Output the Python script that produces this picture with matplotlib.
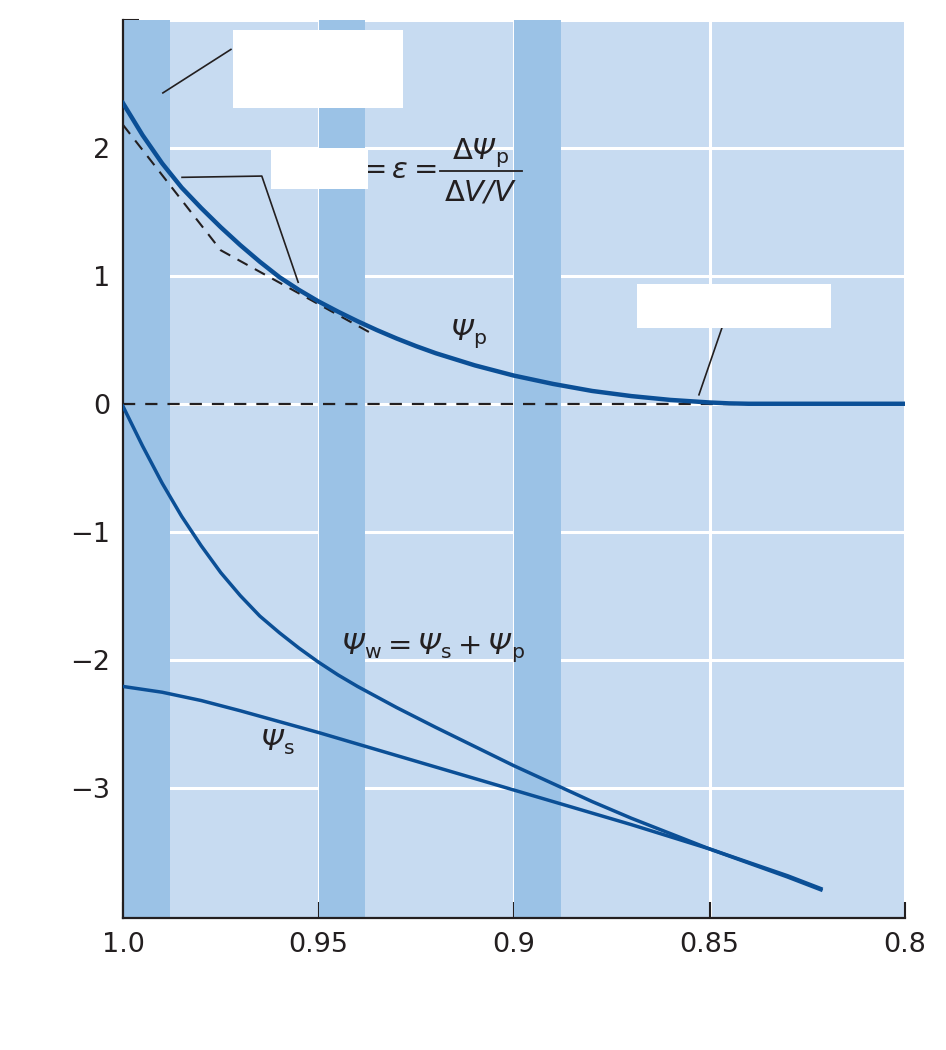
import matplotlib.pyplot as plt
from matplotlib.patches import Rectangle

plt.rcParams['font.family'] = ['DejaVu Sans']
plt.rcParams['mathtext.fontset'] = 'custom'
plt.rcParams['mathtext.rm'] = 'DejaVu Sans:italic'   # greek capitals go to rm -> italic
plt.rcParams['mathtext.it'] = 'DejaVu Sans:italic'
plt.rcParams['mathtext.sf'] = 'DejaVu Sans'          # upright subscripts / delta

# relative volume (x axis, decreasing)
x_p = [1.0, 0.995, 0.99, 0.985, 0.98, 0.975, 0.97, 0.965, 0.96, 0.955, 0.95,
       0.945, 0.94, 0.935, 0.93, 0.925, 0.92, 0.91, 0.9, 0.89, 0.88, 0.87,
       0.86, 0.85, 0.845, 0.84, 0.8]
psi_p = [2.35, 2.10, 1.88, 1.69, 1.53, 1.38, 1.24, 1.11, 0.99, 0.89, 0.80,
         0.72, 0.645, 0.575, 0.51, 0.45, 0.395, 0.30, 0.22, 0.155, 0.10, 0.06,
         0.03, 0.01, 0.003, 0.0, 0.0]

x_w = [1.0, 0.995, 0.99, 0.985, 0.98, 0.975, 0.97, 0.965, 0.96, 0.955, 0.95,
       0.945, 0.94, 0.93, 0.92, 0.91, 0.9, 0.89, 0.88, 0.87, 0.86, 0.85,
       0.84, 0.83, 0.8215]
psi_w = [-0.02, -0.33, -0.62, -0.88, -1.11, -1.32, -1.50, -1.66, -1.79, -1.91, -2.02,
         -2.12, -2.21, -2.375, -2.53, -2.68, -2.83, -2.97, -3.11, -3.24, -3.36, -3.48,
         -3.59, -3.70, -3.80]

x_s = [1.0, 0.99, 0.98, 0.97, 0.96, 0.95, 0.94, 0.93, 0.92, 0.91, 0.9,
       0.89, 0.88, 0.87, 0.86, 0.85, 0.84, 0.83, 0.8215]
psi_s = [-2.21, -2.255, -2.32, -2.40, -2.485, -2.57, -2.66, -2.75, -2.84, -2.93, -3.02,
         -3.11, -3.20, -3.29, -3.385, -3.48, -3.585, -3.69, -3.79]

# tangent (dashed) lines on psi_p
x_tan = [1.0, 0.975, 0.9368]
y_tan = [2.18, 1.20, 0.556]

# shaded bands
bands = [(1.0, 0.988), (0.95, 0.938), (0.9, 0.888)]

xticks = [1.0, 0.95, 0.9, 0.85, 0.8]
xlabels = ['1.0', '0.95', '0.9', '0.85', '0.8']
yticks = [-3, -2, -1, 0, 1, 2, 3]
ylabels = ['\u22123', '\u22122', '\u22121', '0', '1', '2', '']

light = '#c7dbf1'
dark = '#9bc2e6'
blue = '#0b4f96'
ink = '#231f20'

fig = plt.figure(figsize=(9.46, 10.5), dpi=100)
ax = fig.add_axes([123/946, 132/1050, 782/946, 898/1050])
ax.set_facecolor(light)
ax.set_xlim(1.0, 0.8)
ax.set_ylim(-4.02, 3.0)

ax.set_axisbelow(True)
ax.grid(True, color='white', lw=2.2, zorder=0.5)
for a, b in bands:
    ax.axvspan(b, a, color=dark, lw=0, zorder=1)

ax.axhline(0, color=ink, lw=1.6, ls=(0, (5.5, 4.5)), zorder=2)
ax.plot(x_tan, y_tan, color=ink, lw=1.5, ls=(0, (5.5, 4)), zorder=2)

ax.plot(x_p, psi_p, color=blue, lw=3.2, zorder=3)
ax.plot(x_w, psi_w, color=blue, lw=2.5, zorder=3)
ax.plot(x_s, psi_s, color=blue, lw=2.5, zorder=3)

# pointer lines
ax.plot([0.9898, 0.9724], [2.43, 2.77], color=ink, lw=1.2, zorder=4)
ax.plot([0.9849, 0.9645, 0.9552], [1.77, 1.78, 0.95], color=ink, lw=1.2, zorder=4)
ax.plot([0.8468, 0.8527], [0.595, 0.07], color=ink, lw=1.2, zorder=4)

# blanked label boxes
for x0, x1, y0, y1 in [(0.9719, 0.9284, 2.31, 2.92),
                       (0.9621, 0.9373, 1.68, 2.0),
                       (0.8685, 0.8189, 0.595, 0.94)]:
    ax.add_patch(Rectangle((x1, y0), x0 - x1, y1 - y0, facecolor='white',
                           edgecolor='none', zorder=5))

fs = 21
ax.text(0.9164, 0.50, r'$\Psi_\mathsf{p}$', fontsize=fs, color=ink, ha='left', va='baseline')
ax.text(0.9442, -1.96, r'$\Psi_\mathsf{w} = \Psi_\mathsf{s} + \Psi_\mathsf{p}$',
        fontsize=fs, color=ink, ha='left', va='baseline')
ax.text(0.965, -2.71, r'$\Psi_\mathsf{s}$', fontsize=fs, color=ink, ha='left', va='baseline')

# elasticity formula
ax.text(0.9356, 1.83, '=', fontsize=fs, color=ink, ha='center', va='center')
ax.text(0.9292, 1.83, '\u03b5', fontsize=fs, color=ink, style='italic', ha='center', va='center')
ax.text(0.9225, 1.83, '=', fontsize=fs, color=ink, ha='center', va='center')
ax.plot([0.9189, 0.898], [1.82, 1.82], color=ink, lw=1.3)
ax.text(0.9085, 1.91, r'$\mathsf{\Delta}\Psi_\mathsf{p}$', fontsize=fs, color=ink,
        ha='center', va='baseline')
ax.text(0.9085, 1.59, r'$\mathsf{\Delta}V/V$', fontsize=fs, color=ink,
        ha='center', va='baseline')

ax.set_xticks(xticks)
ax.set_xticklabels(xlabels)
ax.set_yticks(yticks)
ax.set_yticklabels(ylabels)
ax.tick_params(direction='in', length=11.5, width=1.5, color=ink, labelcolor=ink,
               labelsize=19.5)
ax.tick_params(axis='y', pad=9)
ax.tick_params(axis='x', pad=10)

for s in ['top', 'right']:
    ax.spines[s].set_visible(False)
for s in ['left', 'bottom']:
    ax.spines[s].set_color(ink)
    ax.spines[s].set_linewidth(1.6)

fig.savefig('out.png', dpi=100)
